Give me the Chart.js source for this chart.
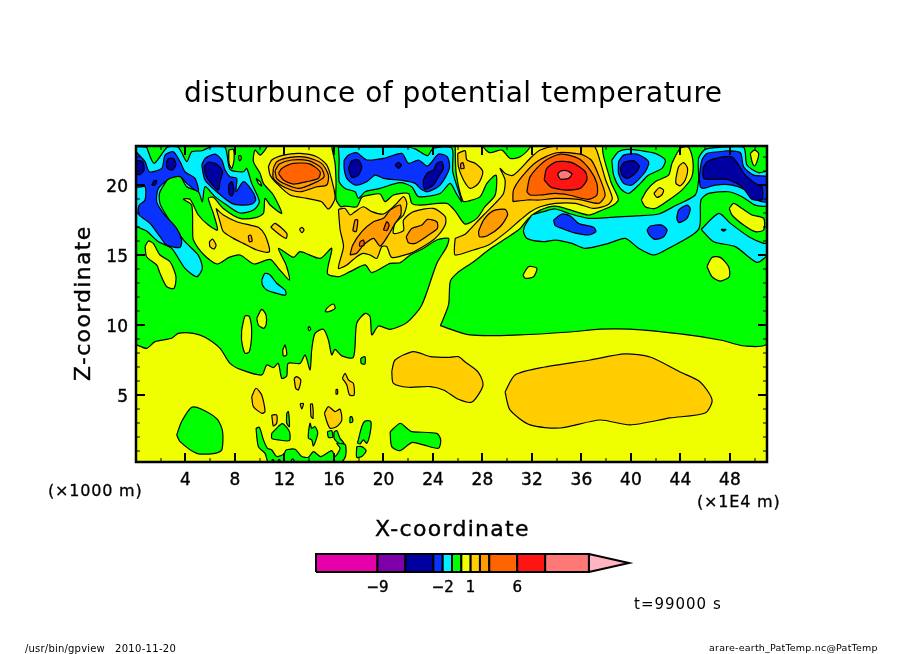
<!DOCTYPE html>
<html>
<head>
<meta charset="utf-8">
<title>disturbunce of potential temperature</title>
<script src="https://cdn.jsdelivr.net/npm/chart.js@4"></script>
<style>
  body { margin: 0; background: #fff; }
  canvas { position: absolute; left: 0; top: 0; }
</style>
</head>
<body>
<canvas id="contour" width="904" height="654"></canvas>
<canvas id="colorbar" width="904" height="654"></canvas>
<script>
// axis ticks
const xTicks = [2,4,6,8,10,12,14,16,18,20,22,24,26,28,30,32,34,36,38,40,42,44,46,48,50];
const yTicks = [1,2,3,4,5,6,7,8,9,10,11,12,13,14,15,16,17,18,19,20,21,22];
const xLabels = [4,8,12,16,20,24,28,32,36,40,44,48];
const yLabels = [5,10,15,20];

// colour scale
const levelEdges = [-15.6,-9,-6,-3,-2,-1,0,1,2,3,6,9,13.7];
const levelColors = ['#e600aa','#7d00aa','#0000a0','#0a32ff','#00f0ff','#00ff00','#f0ff00','#ffcd00','#ff9b00','#ff6400','#ff1414','#ff7878'];
const levelLabels = [-9,-2,1,6];
const overColor = '#ffb4c0';
const overTip = 18;

const NAVY = '#0000a0', BLUE = '#0a32ff', CYAN = '#00f0ff', GREEN = '#00ff00', YELLOW = '#f0ff00',
      AMBER = '#ffcd00', LORANGE = '#ff9b00', ORANGE = '#ff6400', RED = '#ff1414', SALMON = '#ff7878';

// contour regions, [x (1E4 m), z (1000 m)]
const plotBase = [[0,0],[51,0],[51,23],[0,23]];

const greenLeft = [[0,8.6],[.86,8.33],[1.54,8.81],[2.88,9.05],[3.42,9.4],[4.64,9.4],[5.58,9.12],[6.79,8.33],[7.6,7.26],[8.54,6.79],[10.16,6.43],[10.57,7.14],[11.1,6.95],[11.5,7.26],[11.78,6.19],[12.18,6.36],[12.3,7.26],[13.26,7.26],[13.67,7.86],[14.07,6.79],[14.2,8.2],[14.47,9.4],[15.15,9.69],[15.55,8.93],[15.82,7.86],[16.09,8.26],[16.63,7.79],[17.57,7.69],[17.84,10.12],[18.52,10.83],[18.92,10.6],[19.06,9.29],[19.6,9.93],[20.54,9.69],[21.89,10.17],[23.1,11.43],[24.31,14.4],[25.12,15.6],[25.26,16.19],[24.31,16.07],[23.24,15.48],[22.16,15],[21.35,14.45],[20.54,14.4],[19.06,13.74],[18.52,14.29],[17.3,13.81],[16.36,13.45],[15.47,13.69],[15.82,15.48],[14.88,14.76],[13.26,15.24],[12.72,14.83],[11.51,15.48],[12.13,14.29],[12.4,13.21],[11.51,14.05],[10.84,14.69],[9.54,14.36],[8.41,15],[7.52,14.83],[6.58,14.36],[5.5,15],[4.64,16.07],[4.58,16.79],[4.5,18.57],[3.83,18.98],[4.37,18.98],[5.04,17.86],[5.85,17.14],[6.58,16.79],[6.25,17.98],[5.85,19.05],[6.25,19.12],[7.06,18.33],[8.41,17.62],[9.76,17.69],[10.3,17.98],[10.43,19.05],[10.84,18.57],[11.78,17.98],[11.1,19.29],[10.3,20.12],[10.03,20.83],[9.49,21.67],[9.62,22.5],[10.03,22.14],[10.57,22.7],[10.57,23],[0,23]];
const greenUpper = [[15.82,22.7],[16.09,21.55],[16.17,20.12],[16.17,18.98],[16.55,18.45],[16.9,18.5],[17.85,18.45],[18.25,19.12],[18.92,19.29],[19.73,19.36],[20.13,18.81],[20.81,19.29],[22.02,19.4],[22.29,18.69],[22.97,18.57],[25.12,18.69],[25.8,18.14],[26.6,17.21],[27.55,17.62],[28.2,18.45],[29.03,19.29],[29.1,20.71],[28.36,20.12],[27.82,19.17],[26.87,18.86],[26.42,18.86],[25.88,20.83],[25.8,22.7],[25.8,23],[15.82,23]];
const greenTopPatch = [[28.09,23],[28.09,22.7],[28.6,22.31],[29.57,22.5],[30.25,21.9],[31.05,22.02],[31.86,22.7],[31.86,23]];
const greenRight = [[24.6,9.95],[27,9.29],[31,9.29],[35.1,9.5],[37.5,9.7],[39.9,9.7],[44,9.36],[47.2,8.93],[49.2,8.5],[51,8.7],[51,23],[37.92,23],[38.33,20.36],[38.99,18.98],[38.6,18.57],[37.39,18.1],[36.58,17.86],[34.96,18.26],[33.88,18.5],[32.67,18.21],[31.72,17.62],[31.05,16.9],[29.7,16.07],[28.49,15.36],[27.28,14.52],[25.93,13.69],[25.4,13.1],[25.26,11.43]];

const cyanLeft = [[.86,22.7],[0,22.7],[0,17.14],[.86,16.71],[1.81,15.95],[2.88,15.48],[3.96,14.05],[4.91,13.45],[5.36,14.05],[5.04,14.98],[3.96,15.95],[3.15,16.9],[2.35,17.98],[1.94,18.69],[1.94,19.52],[2.88,20.71],[3.56,20.64],[4.1,19.88],[5.04,19.52],[5.36,18.81],[5.58,19.88],[6.39,19.17],[7.33,18.57],[8.41,18],[9.49,18.21],[9.97,18.81],[9.35,20.12],[8.95,21.19],[8.68,20.95],[7.6,21.12],[7.2,22.7],[6.12,22.74],[5.31,22.45],[4.5,22.38],[4.1,21.67],[3.42,22.7],[2.53,22.7],[1.46,21.55]];
const blueLeft = [[0,22.38],[.73,21.67],[1.08,20.95],[2.08,21.19],[2.35,22.14],[3.02,22.38],[3.56,21.67],[3.96,20.95],[4.77,20.48],[5.04,19.52],[4.1,20.12],[3.56,20.6],[2.75,20.48],[1.81,19.76],[1.67,18.81],[2.21,17.98],[3.29,16.9],[3.69,16.07],[3.56,15.55],[2.48,15.71],[1.94,16.31],[1.13,17.26],[.19,17.93],[.27,18.57],[.73,18.93],[.73,19.88],[0,19.88]];
const navyEdge = [[0,21.79],[.54,21.67],[.65,21.07],[.32,20.76],[0,20.83]];
const navyDot = [[2.43,21.55],[2.61,21.9],[3.02,21.9],[3.23,21.48],[2.96,21.07],[2.53,21.19]];
const navySpeck = [[1.27,20],[1.46,20.31],[1.67,20.31],[1.54,20]];
const blueSecond = [[5.31,21.43],[5.58,21.9],[6.39,22.21],[6.93,21.79],[7.2,21.07],[7.6,20.6],[8.14,20.48],[8.09,19.52],[8.68,20.24],[9.35,19.64],[9.68,18.93],[9.35,18.64],[8.54,18.57],[7.74,18.69],[6.52,19.52],[5.58,20.36]];
const navySecond = [[5.5,21.33],[5.85,21.64],[6.52,21.5],[7,20.98],[6.79,20.24],[6.66,19.64],[5.85,20.36],[5.58,20.83]];
const navyOval = [[7.47,20],[7.74,20.24],[7.92,19.64],[7.74,19.21],[7.52,19.4]];
const yellowStrip = [[7.5,22.5],[7.87,22.55],[7.92,21.79],[7.74,21.19],[7.52,21.55]];
const yellowSliver = [[8.3,22.1],[8.47,22.1],[8.47,21.8],[8.35,21.75]];
const yellowFleck = [[9.7,20.48],[10.03,20.24],[10.16,19.93],[9.89,20.12]];
const cyanIsland = [[10.16,13.21],[10.43,13.69],[10.84,13.57],[11.37,12.98],[12.05,12.5],[12.1,12.14],[11.37,12.26],[10.57,12.5],[10.22,12.86]];
const yellowLeft = [[.73,15.6],[1,16],[1.4,15.83],[1.94,15],[2.75,14.52],[3.23,13.45],[3.07,12.62],[2.48,12.74],[1.94,13.69],[1.67,14.29],[.86,14.88]];

const amberWest = [[6.47,18.33],[7.06,17.86],[8.14,17.38],[9.22,17.14],[9.89,16.98],[10.43,16.43],[10.78,15.24],[9.76,15.36],[8.68,15.83],[7.87,16.19],[7.06,16.67],[6.79,17.38]];
const orangeFleck = [[9.08,16.36],[9.27,16.43],[9.38,16],[9.16,15.95]];
const amberDash = [[10.89,16.98],[11.24,17.26],[12.19,16.55],[12.13,16.19],[11.65,16.43]];
const amberDot = [[13.21,16.83],[13.4,16.98],[13.58,16.79],[13.4,16.6]];
const amberOval = [[5.93,15.95],[6.18,16.14],[6.47,15.71],[6.31,15.43],[5.98,15.6]];

const hotWestAmber = [[10.7,21.31],[10.97,21.79],[11.92,22.14],[13.26,22.26],[14.61,22.02],[15.42,21.43],[15.82,20.36],[16.09,19.05],[15.55,18.29],[15,18.81],[13.8,19.05],[12.45,19.29],[11.37,20.12],[10.84,20.71]];
const hotWestLight = [[11.1,21.19],[11.37,21.67],[12.45,21.98],[13.8,21.98],[15,21.55],[15.55,20.71],[15.42,20],[14.61,19.88],[13.26,19.52],[11.92,19.88],[11.1,20.48]];
const hotWestRing = [[11.24,21.02],[11.59,21.5],[12.59,21.79],[13.94,21.74],[14.93,21.26],[15.2,20.6],[14.34,20.12],[13.13,19.76],[12.05,20.07],[11.37,20.48]];
const hotWestCore = [[11.51,20.83],[11.78,21.19],[12.72,21.55],[14.07,21.5],[14.88,20.95],[14.75,20.48],[13.8,20.24],[12.72,20.07],[11.92,20.36]];

const cyanMiddle = [[16.36,22.7],[19.87,22.7],[22.02,22.7],[22.64,22.55],[23.56,22.1],[24.04,22.64],[25.53,22.64],[25.6,20.95],[26.33,18.81],[25.88,19.4],[25.39,20.12],[24.58,19.4],[22.83,19.17],[22.29,19.88],[21.35,20.17],[19.73,19.76],[18.52,19.52],[17.98,19.05],[17.71,19.52],[16.9,19.76],[16.42,20.24],[16.42,21.79]];
const blueMiddle = [[16.82,21.79],[17.17,22.14],[17.84,22.31],[18.65,21.79],[20,21.9],[21.48,22.26],[22.02,21.55],[22.83,21.79],[23.56,21.36],[24.45,22.21],[25.17,22.02],[25.33,21.19],[24.58,20],[23.56,19.52],[22.97,19.76],[22.56,20.12],[21.62,20.31],[20,20.48],[19.33,20.71],[18.65,20.24],[17.71,20],[17.04,20.48],[16.82,21.19]];
const navyMiddleOval = [[17.17,21.19],[17.44,21.74],[17.98,21.79],[18.25,21.31],[17.98,20.71],[17.44,20.55]];
const navyMiddleDot = [[20.94,21.43],[21.2,21.62],[21.45,21.43],[21.2,21.19]];
const navyMiddleBar = [[23.23,20.36],[23.56,20.88],[24.04,21.07],[24.31,21.55],[24.72,21.67],[24.85,21.19],[24.45,20.6],[24.04,20],[23.37,19.69],[23.23,20]];

const amberCentre = [[16.36,18.26],[16.9,18.33],[17.3,17.86],[17.71,18.1],[18.38,18.45],[19.06,18.1],[20,17.93],[20.94,18.57],[21.62,19.17],[21.89,18.69],[21.62,17.86],[20.94,17.26],[20.81,16.55],[21.62,16.74],[21.62,17.5],[22.43,18.1],[24.04,18.33],[24.99,17.74],[24.99,17.14],[24.18,16.19],[22.97,15.48],[22.16,15.12],[20.67,14.83],[20.27,15.6],[19.87,15.6],[19.46,14.76],[18.92,15],[18.38,15.12],[17.84,14.88],[17.04,14.29],[16.36,14.05],[16.77,15.6],[16.5,16.79]];
const lightCentreWest = [[17.3,15],[17.52,15.71],[18.25,16.67],[19.19,17.38],[20,17.62],[20.54,18.21],[21.35,18.57],[21.4,17.86],[20.94,17.26],[20.4,16.43],[19.73,15.64],[19.19,16.19],[18.38,15.71],[17.84,15.12]];
const lightCentreEast = [[21.84,16.31],[22.29,16.9],[23.1,17.14],[23.56,17.55],[24.31,17.38],[24.36,16.9],[23.64,16.43],[22.56,15.83],[22.02,15.88]];
const orangeSpeckA = [[18.1,15.95],[18.38,16.07],[18.43,15.71],[18.06,15.64]];
const orangeSpeckB = [[20,16.79],[20.27,17.38],[20.46,17.14],[20.27,16.74]];
const lightSliver = [[17.52,16.74],[17.71,17.5],[17.92,17.5],[17.79,16.67]];

const amberStream = [[25.8,16.19],[26.6,16.48],[27.15,16.98],[28.09,17.86],[29.03,18.69],[29.7,19.4],[29.83,20.36],[29.43,21.19],[29.84,20.83],[30.51,20.71],[31.99,22.02],[32.67,22.5],[34,22.8],[36.98,22.8],[37.52,21.67],[37.96,20.36],[38.5,19.05],[38.1,18.57],[36.98,18.33],[35.5,18.69],[33.88,18.69],[32.67,18.45],[31.89,18.1],[31.05,17.5],[29.97,16.67],[28.49,15.71],[27.28,15.36],[25.8,15],[25.74,15.6]];
const amberNorth = [[26,22.26],[26.6,22.45],[26.74,21.79],[27.41,21.55],[28.03,20.95],[27.68,20.12],[27.01,19.76],[26.47,20.36],[26.06,21.31]];
const lightNorth = [[26.25,21.55],[26.42,21.6],[26.52,21.19],[26.25,21.19]];
const lightStream = [[27.68,16.67],[28.09,17.5],[28.9,18.17],[29.84,18.26],[30.03,17.86],[29.43,17.02],[28.36,16.36],[27.76,16.31]];
const hotEastLight = [[30.46,18.81],[30.51,19.64],[31.19,20.6],[32.39,21.67],[34,22.31],[35.9,22.21],[36.79,21.79],[37.33,20.83],[37.92,19.29],[37.39,18.69],[35.77,18.98],[33.88,19.05],[32.67,18.93],[31.59,18.93]];
const hotEastOrange = [[31.59,19.52],[31.86,20.6],[32.96,21.67],[34.29,22.21],[35.77,21.9],[36.71,21.07],[37.25,20.12],[37.25,19.29],[36.58,18.98],[34.96,19.29],[33.88,19.4],[32.67,19.29],[31.86,19.29]];
const hotEastRed = [[32.99,20.36],[33.2,21.19],[34,21.67],[35.23,21.6],[36.31,20.95],[36.44,20.36],[35.9,19.76],[34.69,19.64],[33.88,19.76],[33.48,19.88]];
const hotEastCore = [[34.07,20.76],[34.29,20.99],[34.82,21.02],[35.23,20.79],[34.96,20.48],[34.29,20.43]];

const cyanRing = [[38.46,21.79],[38.99,22.38],[39.66,22.55],[40.89,22.45],[41.97,22.26],[42.78,21.79],[42.51,21.19],[41.43,20.71],[40.76,20.12],[39.81,19.4],[39.14,19.76],[38.6,20.71]];
const blueRing = [[39,21.67],[39.41,22.14],[40.49,22.21],[41.43,21.67],[41.16,20.95],[40.08,20],[39.41,20.12],[39,20.83]];
const navyRing = [[39.14,21.19],[39.41,21.6],[40.2,21.74],[40.68,21.36],[40.36,20.83],[39.68,20.48],[39.28,20.71]];
const cyanBand = [[31.99,17.86],[32.94,18.1],[33.88,18.29],[34.96,17.98],[36.58,17.62],[38.33,17.69],[40.49,17.79],[42.24,17.93],[43.58,18.52],[45.2,19.29],[45.47,20.36],[45.47,21.9],[46.01,22.55],[47.36,22.7],[49.11,22.7],[49.38,21.43],[50.32,20.88],[51.1,20.95],[51.1,18.57],[50.03,18.57],[48.98,19.17],[47.9,19.52],[46.28,19.4],[45.66,18.93],[45.47,16.83],[43.05,15.48],[41.84,15],[40.62,15.48],[39.54,16.19],[38.19,15.83],[36.31,15.48],[35.23,15.83],[33.88,16.07],[32.94,15.95],[31.59,16.19],[31.32,16.67],[31.46,17.14]];
const yellowEast = [[40.84,18.93],[41.3,19.64],[41.97,20.24],[43.05,20.71],[43.32,21.55],[44,22.62],[44.66,22.7],[45,21.79],[44.93,20.6],[44.12,19.64],[43.05,18.93],[41.97,18.33],[41.16,18.45]];
const amberEastBar = [[43.64,20.48],[43.86,21.31],[44.26,21.6],[44.58,21.19],[44.39,20.36],[43.99,19.95],[43.64,20.12]];
const amberEastDot = [[41.86,19.4],[42.29,19.81],[42.64,19.64],[42.5,19.29],[42.1,19.12]];
const blueBand = [[45.53,20.6],[45.74,21.79],[46.15,22.26],[47.09,22.38],[47.9,22.45],[48.85,22.31],[49.11,21.31],[49.92,20.71],[51.13,20.55],[51.13,18.81],[50.19,18.93],[49.25,19.64],[48.17,20],[46.82,20],[45.88,19.76],[45.61,19.88]];
const navyBand = [[45.82,21.19],[46.15,21.67],[47.22,21.98],[48.17,22.02],[48.71,21.43],[49.25,20.71],[50.05,20.12],[50.59,19.88],[50.59,18.98],[49.78,18.98],[48.98,19.88],[47.77,20.4],[46.55,20.4],[45.88,20.48]];
const yellowTopRight = [[49.65,22.26],[49.98,22.5],[50.32,22.26],[50.19,21.67],[49.98,21.36],[49.79,21.67]];
const yellowLobeRight = [[47.95,18.33],[48.3,18.69],[48.98,18.33],[49.79,17.86],[50.73,17.62],[50.73,16.79],[50.05,16.67],[49.11,17.14],[48.17,17.86]];
const cyanLowerRight = [[45.68,16.83],[47.1,17.98],[48.05,17.26],[49.53,16.31],[50.73,15.83],[51.1,15.83],[51.1,15.1],[50.19,14.48],[48.44,15.6],[46.69,15.95]];
const navyFleck = [[47.28,16.83],[47.68,16.83],[47.5,16.7]];
const blueStreak = [[33.75,17.5],[34.42,17.93],[35.1,17.79],[35.77,17.26],[36.98,16.98],[37.17,16.67],[36.58,16.43],[35.36,16.6],[34.42,16.9],[33.88,17.1]];
const blueBlobA = [[41.3,16.79],[41.57,17.07],[42.5,17.14],[42.92,16.79],[42.65,16.31],[41.97,16.12],[41.49,16.43]];
const blueBlobB = [[43.7,17.62],[43.86,18.21],[44.53,18.57],[44.8,18.33],[44.53,17.62],[43.86,17.31]];
const yellowRound = [[46.15,14.17],[46.55,14.83],[47.22,14.83],[47.9,14.17],[47.95,13.45],[47.22,13.14],[46.55,13.45]];
const yellowBean = [[31.27,13.57],[31.73,14.17],[32.4,14.05],[32.13,13.45],[31.46,13.33]];

const amberLowerBig = [[29.83,5.21],[30.64,6.43],[33.06,7],[36.7,7.5],[39.53,7.93],[41.55,7.71],[43.98,6.64],[45.6,5.93],[46.56,4.64],[46,3.71],[43.17,3.36],[39.94,2.86],[37.5,3.21],[34.28,2.64],[31.85,2.86],[30.23,3.93]];
const amberLowerMid = [[20.67,6.67],[20.94,7.5],[22.43,8.1],[23.77,7.74],[25.39,7.69],[26.06,7.74],[26.6,7.36],[27.65,6.64],[28.05,5.71],[27.16,4.5],[26.06,4.69],[24.85,5.36],[23.77,5.6],[22.02,5.55],[20.81,5.83]];
const greenPatchWest = [[3.29,2.14],[3.69,3.1],[4.5,4.12],[5.31,3.98],[6.58,3.26],[7,2.38],[6.93,1.07],[6.39,.83],[4.91,.83],[3.56,1.67]];
const greenPatchEast = [[20.54,2.38],[21.35,2.98],[21.89,2.62],[22.29,2.38],[24.31,2.26],[24.63,1.79],[24.45,1.19],[23.24,1.43],[22.29,1.6],[21.35,1.02],[20.67,1.31]];
const amberSpots = [
  [[9.35,4.88],[9.7,5.48],[10.16,5],[10.43,3.81],[10.16,3.69],[9.49,4.17]],
  [[10.97,3.57],[11.37,3.57],[11.37,2.98],[11.1,2.79],[11.02,3.21]],
  [[12.78,6.19],[12.99,6.31],[13.32,6.07],[13.13,5.36],[12.91,5.48]],
  [[16.68,6.19],[16.9,6.55],[17.17,6.07],[17.57,5.83],[17.63,5],[17.25,5],[17.04,5.71]],
  [[15.23,3.69],[15.55,4.17],[16.09,3.81],[16.49,3.98],[16.63,3.21],[16.23,2.74],[15.69,2.62],[15.42,3.1]],
  [[14.1,4.36],[14.26,4.36],[14.31,3.33],[14.15,3.45]],
  [[13.26,4.36],[13.53,4.4],[13.4,4]],
  [[16.17,5.4],[16.28,5.4],[16.28,5.07],[16.17,5.07]]
];
const yellowHoles = [
  [[8.54,9.64],[8.81,10.64],[9.16,10.6],[9.35,9.52],[9.16,8.1],[8.81,7.98],[8.54,8.86]],
  [[9.76,10.48],[10.16,11.12],[10.51,10.71],[10.51,10],[10.3,9.76],[9.89,10]],
  [[15.28,10.95],[15.42,11.19],[15.96,11.5],[16.09,11.19],[15.55,10.95]],
  [[11.86,8.21],[12.05,8.57],[12.18,7.86],[11.91,7.79]],
  [[13.9,9.76],[14,9.88],[14.12,9.69],[14,9.6]]
];
const greenFoot = [[9.7,2.62],[9.97,2.69],[10.3,1.79],[10.62,1.19],[10.97,1.07],[11.37,.6],[11.97,.79],[12.13,1.07],[12.86,1.12],[13.4,.6],[13.94,.55],[14.34,.95],[14.93,.6],[15.82,1.02],[16.09,.6],[16.5,1.19],[16.23,1.55],[16.5,1.6],[16.93,1.43],[16.93,.6],[16.44,.1],[10.78,.1],[10.43,.83],[9.89,1.31]];
const greenSpots = [
  [[18.17,7.62],[18.5,7.74],[18.5,7.21],[18.2,7.26]],
  [[17.3,3.45],[17.44,3.45],[17.52,3.1],[17.3,3.02]],
  [[12.18,3.69],[12.32,3.81],[12.4,2.74],[12.18,2.98]],
  [[10.97,2.26],[11.64,2.86],[11.91,2.93],[12.4,2.38],[12.4,1.74],[11.51,1.79],[10.97,1.9]],
  [[13.94,2.38],[14.07,2.98],[14.2,2.62],[14.47,2.74],[14.69,2.26],[14.34,1.36],[14.2,1.79],[13.94,1.9]],
  [[15.47,2.38],[15.82,2.45],[15.9,1.98],[15.55,1.98]],
  [[16.01,2.38],[16.23,2.45],[16.49,1.9],[16.81,1.55],[16.4,1.55],[16.01,1.9]],
  [[17.9,1.55],[18.25,2.74],[18.52,3.14],[18.98,3.1],[18.92,2.26],[18.65,1.55],[18.38,1.79],[18.11,1.5]],
  [[17.84,1.31],[18.25,1.31],[18.6,1.02],[18.25,.6],[17.84,.55]]
];
const cyanFoot = [
  [[10.89,.1],[11.05,.4],[11.27,.1]],
  [[11.37,.1],[11.56,.4],[11.73,.1]],
  [[12.45,.1],[12.64,.43],[12.94,.1]]
];

// painted in this order, later regions on top
const regions = [
  [plotBase, YELLOW],
  [greenLeft, GREEN], [greenUpper, GREEN], [greenTopPatch, GREEN], [greenRight, GREEN],
  [cyanLeft, CYAN], [blueLeft, BLUE], [navyEdge, NAVY], [navyDot, NAVY], [navySpeck, NAVY],
  [blueSecond, BLUE], [navySecond, NAVY], [navyOval, NAVY],
  [yellowStrip, YELLOW], [yellowSliver, YELLOW], [yellowFleck, YELLOW], [cyanIsland, CYAN], [yellowLeft, YELLOW],
  [amberWest, AMBER], [orangeFleck, LORANGE], [amberDash, AMBER], [amberDot, AMBER], [amberOval, AMBER],
  [hotWestAmber, AMBER], [hotWestLight, LORANGE], [hotWestRing, LORANGE], [hotWestCore, ORANGE],
  [cyanMiddle, CYAN], [blueMiddle, BLUE], [navyMiddleOval, NAVY], [navyMiddleDot, NAVY], [navyMiddleBar, NAVY],
  [amberCentre, AMBER], [lightCentreWest, LORANGE], [lightCentreEast, LORANGE], [orangeSpeckA, ORANGE], [orangeSpeckB, ORANGE], [lightSliver, LORANGE],
  [amberStream, AMBER], [amberNorth, AMBER], [lightNorth, LORANGE], [lightStream, LORANGE],
  [hotEastLight, LORANGE], [hotEastOrange, ORANGE], [hotEastRed, RED], [hotEastCore, SALMON],
  [cyanRing, CYAN], [blueRing, BLUE], [navyRing, NAVY],
  [cyanBand, CYAN], [yellowEast, YELLOW], [amberEastBar, AMBER], [amberEastDot, AMBER],
  [blueBand, BLUE], [navyBand, NAVY], [yellowTopRight, YELLOW], [yellowLobeRight, YELLOW],
  [cyanLowerRight, CYAN], [navyFleck, NAVY], [blueStreak, BLUE], [blueBlobA, BLUE], [blueBlobB, BLUE],
  [yellowRound, YELLOW], [yellowBean, YELLOW],
  [amberLowerBig, AMBER], [amberLowerMid, AMBER], [greenPatchWest, GREEN], [greenPatchEast, GREEN],
  ...amberSpots.map(s => [s, AMBER]),
  ...yellowHoles.map(s => [s, YELLOW]),
  [greenFoot, GREEN],
  ...greenSpots.map(s => [s, GREEN]),
  ...cyanFoot.map(s => [s, CYAN])
];

function shape(points, color, width) {
  const data = points.concat([points[0]]).map(p => ({ x: p[0], y: p[1] }));
  return {
    data,
    showLine: true,
    fill: 'shape',
    backgroundColor: color,
    borderColor: '#000',
    borderWidth: width,
    pointRadius: 0,
    tension: 0.25
  };
}

const SANS = '"DejaVu Sans"';

function drawText(ctx, str, x, y, size, spacing, stroke) {
  ctx.font = size + 'px ' + SANS;
  ctx.letterSpacing = (spacing || 0) + 'px';
  ctx.textAlign = 'left';
  ctx.textBaseline = 'middle';
  ctx.fillStyle = '#000';
  ctx.fillText(str, x, y);
  if (stroke) {
    ctx.lineWidth = stroke;
    ctx.strokeText(str, x, y);
  }
}

// frame + inward ticks on all four sides, and the free text
const framePlugin = {
  id: 'frame',
  afterDraw(chart) {
    const { ctx, chartArea: a, scales } = chart;
    ctx.save();
    ctx.strokeStyle = '#000';
    xTicks.forEach(v => {
      const px = Math.round(scales.x.getPixelForValue(v));
      const major = xLabels.includes(v);
      const len = major ? 9 : 4;
      ctx.lineWidth = major ? 2 : 1;
      ctx.beginPath();
      ctx.moveTo(px, a.bottom); ctx.lineTo(px, a.bottom - len);
      ctx.moveTo(px, a.top); ctx.lineTo(px, a.top + len);
      ctx.stroke();
    });
    yTicks.forEach(v => {
      const py = Math.round(scales.y.getPixelForValue(v));
      const major = yLabels.includes(v);
      const len = major ? 9 : 4;
      ctx.lineWidth = major ? 2 : 1;
      ctx.beginPath();
      ctx.moveTo(a.left, py); ctx.lineTo(a.left + len, py);
      ctx.moveTo(a.right, py); ctx.lineTo(a.right - len, py);
      ctx.stroke();
    });
    ctx.lineWidth = 2.5;
    ctx.strokeRect(a.left, a.top, a.right - a.left, a.bottom - a.top);

    drawText(ctx, 'disturbunce of potential temperature', 184, 95, 28, 0.5);
    drawText(ctx, 'X-coordinate', 375, 530, 22, 1.3, 0.4);
    drawText(ctx, '(×1000 m)', 48, 492, 16, 0.8, 0.3);
    drawText(ctx, '(×1E4 m)', 697, 503, 16, 0.8, 0.3);
    drawText(ctx, 't=99000 s', 634, 605, 15, 1);
    drawText(ctx, '/usr/bin/gpview', 25, 649, 10, 0.2);
    drawText(ctx, '2010-11-20', 115, 649, 10, 0.3);
    drawText(ctx, 'arare-earth_PatTemp.nc@PatTemp', 709, 649, 9.5, 0.2);

    ctx.save();
    ctx.translate(84, 381);
    ctx.rotate(-Math.PI / 2);
    drawText(ctx, 'Z-coordinate', 0, 0, 22, 1.3, 0.4);
    ctx.restore();
    ctx.restore();
  }
};

new Chart(document.getElementById('contour'), {
  type: 'scatter',
  data: { datasets: regions.map(r => shape(r[0], r[1], 1.2)).reverse() },
  options: {
    responsive: false,
    animation: false,
    devicePixelRatio: 1,
    layout: { padding: { top: 146, right: 137 } },
    plugins: { legend: { display: false }, tooltip: { enabled: false } },
    scales: {
      x: {
        type: 'linear', min: 0, max: 51,
        grid: { display: false, drawTicks: false }, border: { display: false },
        afterBuildTicks(scale) { scale.ticks = xTicks.map(v => ({ value: v })); },
        afterFit(scale) { scale.height = 192; },
        ticks: {
          autoSkip: false, maxRotation: 0, padding: 8, color: '#000',
          font: { family: SANS, size: 17 },
          textStrokeColor: '#000', textStrokeWidth: 0.4,
          callback: v => xLabels.includes(v) ? String(v) : ''
        }
      },
      y: {
        type: 'linear', min: 0.21, max: 22.79,
        grid: { display: false, drawTicks: false }, border: { display: false },
        afterBuildTicks(scale) { scale.ticks = yTicks.map(v => ({ value: v })); },
        afterFit(scale) { scale.width = 136; },
        ticks: {
          autoSkip: false, padding: 8, color: '#000',
          // blank first line + tight line height pushes the label down a bit
          font: { family: SANS, size: 17, lineHeight: 0.3 },
          textStrokeColor: '#000', textStrokeWidth: 0.4,
          callback: v => yLabels.includes(v) ? ['', String(v)] : ''
        }
      }
    }
  },
  plugins: [framePlugin]
});

// colour bar, same polygons but on its own level axis
const barRegions = levelColors.map((c, i) => [[[levelEdges[i],0],[levelEdges[i+1],0],[levelEdges[i+1],1],[levelEdges[i],1]], c]);
barRegions.push([[[levelEdges[12],0],[overTip,0.5],[levelEdges[12],1]], overColor]);

new Chart(document.getElementById('colorbar'), {
  type: 'scatter',
  data: {
    datasets: barRegions.map(r => {
      const d = shape(r[0], r[1], 2);
      d.tension = 0;
      d.clip = false;
      return d;
    }).reverse()
  },
  options: {
    responsive: false,
    animation: false,
    devicePixelRatio: 1,
    layout: { padding: { left: 316, right: 275, top: 554 } },
    plugins: { legend: { display: false }, tooltip: { enabled: false } },
    scales: {
      x: {
        type: 'linear', min: -15.6, max: overTip,
        grid: { display: false, drawTicks: false }, border: { display: false },
        afterBuildTicks(scale) { scale.ticks = levelLabels.map(v => ({ value: v })); },
        afterFit(scale) { scale.height = 82; },
        ticks: {
          autoSkip: false, maxRotation: 0, padding: 7, color: '#000',
          font: { family: SANS, size: 15 },
          textStrokeColor: '#000', textStrokeWidth: 0.4,
          callback: v => String(v).replace('-', '\u2212')
        }
      },
      y: {
        type: 'linear', min: 0, max: 1, display: false
      }
    }
  }
});
</script>
</body>
</html>
